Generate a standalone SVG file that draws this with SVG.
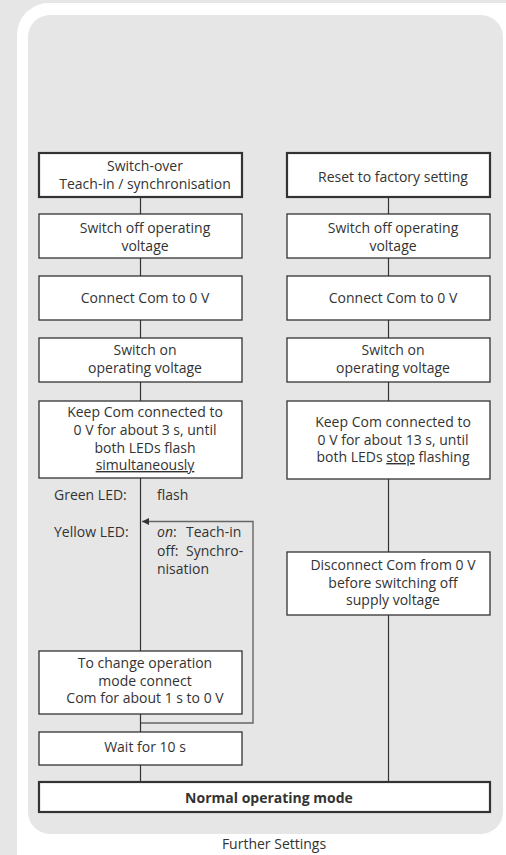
<svg xmlns="http://www.w3.org/2000/svg" width="506" height="855" viewBox="0 0 506 855">
<defs>
<style>
.bx{fill:#fff;stroke:#333;stroke-width:1.3}
.bxb{fill:#fff;stroke:#333;stroke-width:2.2}
.t{font-family:"Open Sans","Liberation Sans",Arial,sans-serif;font-size:14px;fill:#333;text-anchor:middle}
.tl{font-family:"Open Sans","Liberation Sans",Arial,sans-serif;font-size:14px;fill:#333}
.c{stroke:#333;stroke-width:1.2;fill:none}
.lp{stroke:#666;stroke-width:1.4;fill:none}
</style>
<marker id="ah" viewBox="0 0 10 10" refX="10" refY="5" markerWidth="8" markerHeight="7" markerUnits="userSpaceOnUse" orient="auto">
<path d="M0,0 L10,5 L0,10 z" fill="#333"/>
</marker>
</defs>
<rect x="0" y="0" width="506" height="855" fill="#e6e6e6"/>
<rect x="17" y="3" width="530" height="885" rx="32" fill="#fff"/>
<rect x="28" y="15" width="475" height="819" rx="22" fill="#e6e6e6"/>

<g id="connectors">
<line class="c" x1="140.5" y1="197" x2="140.5" y2="214"/>
<line class="c" x1="140.5" y1="258" x2="140.5" y2="276"/>
<line class="c" x1="140.5" y1="320" x2="140.5" y2="338"/>
<line class="c" x1="140.5" y1="382" x2="140.5" y2="401"/>
<line class="c" x1="140.5" y1="478" x2="140.5" y2="651"/>
<line class="c" x1="140.5" y1="714" x2="140.5" y2="732"/>
<line class="c" x1="140.5" y1="765" x2="140.5" y2="782"/>
<line class="c" x1="388.5" y1="197" x2="388.5" y2="214"/>
<line class="c" x1="388.5" y1="258" x2="388.5" y2="276"/>
<line class="c" x1="388.5" y1="320" x2="388.5" y2="338"/>
<line class="c" x1="388.5" y1="382" x2="388.5" y2="401"/>
<line class="c" x1="388.5" y1="479" x2="388.5" y2="552"/>
<line class="c" x1="388.5" y1="615" x2="388.5" y2="782"/>
<polyline class="lp" points="141,723 253,723 253,521.5 142,521.5" marker-end="url(#ah)"/>
</g>

<g id="n-switchover">
<rect class="bxb" x="39" y="153" width="203" height="44"/>
<text class="t" x="145" y="170.5">Switch-over</text>
<text class="t" x="145" y="188.5">Teach-in / synchronisation</text>
</g>
<g id="n-off-left">
<rect class="bx" x="39" y="214" width="203" height="44"/>
<text class="t" x="145" y="232.5">Switch off operating</text>
<text class="t" x="145" y="250.5">voltage</text>
</g>
<g id="n-connect-left">
<rect class="bx" x="39" y="276" width="203" height="44"/>
<text class="t" x="145" y="302.5">Connect Com to 0 V</text>
</g>
<g id="n-on-left">
<rect class="bx" x="39" y="338" width="203" height="44"/>
<text class="t" x="145" y="354.5">Switch on</text>
<text class="t" x="145" y="372.5">operating voltage</text>
</g>
<g id="n-keep-left">
<rect class="bx" x="39" y="401" width="203" height="77"/>
<text class="t" x="145" y="417">Keep Com connected to</text>
<text class="t" x="145" y="435">0 V for about 3 s, until</text>
<text class="t" x="145" y="452.5">both LEDs flash</text>
<text class="t" x="145" y="470"><tspan style="text-decoration:underline">simultaneously</tspan></text>
</g>
<g id="n-led">
<text class="tl" x="54" y="500">Green LED:</text>
<text class="tl" x="157" y="500">flash</text>
<text class="tl" x="54" y="537">Yellow LED:</text>
<text class="tl" x="157" y="537"><tspan font-style="italic">on</tspan>: <tspan x="186">Teach-in</tspan></text>
<text class="tl" x="157" y="555.5">off: <tspan x="186">Synchro-</tspan></text>
<text class="tl" x="157" y="573.5">nisation</text>
</g>
<g id="n-change">
<rect class="bx" x="39" y="651" width="203" height="63"/>
<text class="t" x="145" y="668">To change operation</text>
<text class="t" x="145" y="685.5">mode connect</text>
<text class="t" x="145" y="703">Com for about 1 s to 0 V</text>
</g>
<g id="n-wait">
<rect class="bx" x="39" y="732" width="203" height="33"/>
<text class="t" x="145" y="752">Wait for 10 s</text>
</g>

<g id="n-reset">
<rect class="bxb" x="287" y="153" width="203" height="44"/>
<text class="t" x="393" y="181.5">Reset to factory setting</text>
</g>
<g id="n-off-right">
<rect class="bx" x="287" y="214" width="203" height="44"/>
<text class="t" x="393" y="232.5">Switch off operating</text>
<text class="t" x="393" y="250.5">voltage</text>
</g>
<g id="n-connect-right">
<rect class="bx" x="287" y="276" width="203" height="44"/>
<text class="t" x="393" y="302.5">Connect Com to 0 V</text>
</g>
<g id="n-on-right">
<rect class="bx" x="287" y="338" width="203" height="44"/>
<text class="t" x="393" y="354.5">Switch on</text>
<text class="t" x="393" y="372.5">operating voltage</text>
</g>
<g id="n-keep-right">
<rect class="bx" x="287" y="401" width="203" height="78"/>
<text class="t" x="393" y="427">Keep Com connected to</text>
<text class="t" x="393" y="444.5">0 V for about 13 s, until</text>
<text class="t" x="393" y="462">both LEDs <tspan style="text-decoration:underline">stop</tspan> flashing</text>
</g>
<g id="n-disconnect">
<rect class="bx" x="287" y="552" width="203" height="63"/>
<text class="t" x="393" y="570">Disconnect Com from 0 V</text>
<text class="t" x="393" y="587.5">before switching off</text>
<text class="t" x="393" y="605">supply voltage</text>
</g>

<g id="n-normal">
<rect class="bxb" x="39" y="782" width="451" height="30"/>
<text class="t" x="269" y="802.5" font-weight="bold" font-size="15">Normal operating mode</text>
</g>
<text class="t" x="274" y="849" font-size="15">Further Settings</text>
</svg>
